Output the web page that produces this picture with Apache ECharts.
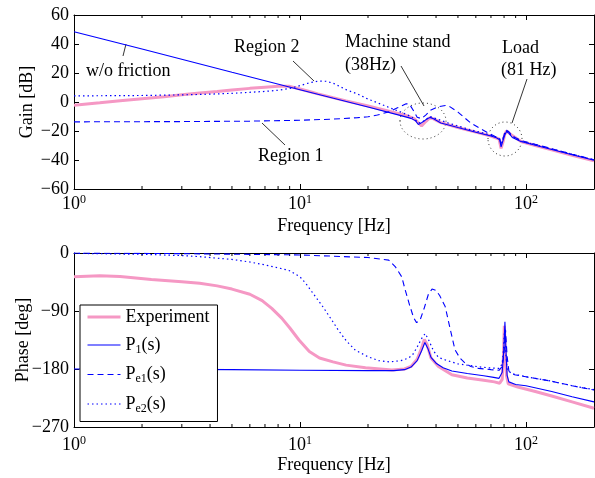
<!DOCTYPE html>
<html>
<head>
<meta charset="utf-8">
<script src="https://cdn.jsdelivr.net/npm/echarts@6/dist/echarts.min.js"></script>
<style>
html, body { margin: 0; padding: 0; background: #fff; }
#bode { width: 595px; height: 478px; }
</style>
</head>
<body>
<div id="bode"></div>
<script>
// gain [dB]
var freqGainExp = [1, 1.3, 1.6, 2, 2.5, 3, 3.6, 4.3, 5, 6, 7, 8, 9, 10, 11, 12, 14, 16, 20, 25, 30, 32, 33.5, 34.5, 36, 37.6, 39, 42, 50, 60, 70, 76, 77.6, 79, 80.5, 82, 83.5, 86, 95, 110, 130, 160, 200];
var gainExp = [-2.2, -0.5, 0.9, 2.3, 3.7, 5.0, 6.2, 7.3, 8.3, 9.4, 10.2, 10.8, 10.8, 9.0, 7.2, 5.6, 3.0, 0.8, -2.8, -6.6, -9.7, -11.5, -14.5, -16.5, -13.5, -10.8, -11.6, -14.2, -17.6, -20.8, -23.5, -25.5, -32, -28, -22.5, -20, -20.5, -22.5, -27.2, -30, -33, -36.8, -40.6];

var freqGainP1 = [1, 2, 5, 10, 20, 28, 31, 32.5, 33.4, 34.5, 36, 37.6, 39, 42, 50, 60, 70, 74, 76.5, 77.6, 79, 80.5, 82, 82.8, 84, 87, 95, 110, 130, 160, 200];
var gainP1 = [48.5, 36.5, 20.5, 8.5, -3.5, -9.4, -11.3, -13, -15.5, -14.3, -12.3, -10.6, -11.6, -14.5, -17.6, -20.8, -23.5, -24.6, -26, -30.9, -27, -23, -20.3, -20.1, -21.5, -24.5, -27.2, -29.8, -32.7, -36.4, -40.2];

var freqGainPe1 = [1, 3, 6, 10, 14, 18, 20, 22, 24.7, 27, 29.5, 30.5, 31.8, 33, 34.5, 36, 38, 41, 44, 46, 50, 57, 63, 69, 73, 76.5, 77.6, 79, 80.5, 82, 84, 87, 95, 110, 130, 160, 200];
var gainPe1 = [-13.7, -13.5, -13.2, -12.6, -11.8, -10.8, -10.2, -9, -6.8, -4, -1.2, -1.5, -6, -10.5, -11.5, -9, -5.5, -3.2, -2.4, -3.2, -7, -14.5, -18.5, -21.8, -23.8, -25.5, -29, -25.5, -21.5, -19.5, -20.5, -23.5, -26.5, -29.2, -32.2, -36, -39.8];

var freqGainPe2 = [1, 2, 3, 4, 5, 6, 7, 8, 9, 10, 11, 12, 13, 14, 16, 18, 20, 22, 25, 28, 30, 32, 33.5, 35, 37.6, 40, 45, 55, 65, 72, 76.5, 77.6, 79, 81, 83, 86, 95, 120, 160, 200];
var gainPe2 = [4.2, 4.5, 4.9, 5.4, 6.0, 6.7, 7.3, 8.1, 9.3, 11.3, 13.2, 14.4, 14.3, 13, 8.5, 5.5, 2, -0.5, -4, -7, -9, -11.5, -14.5, -13.5, -10, -11.5, -14.3, -18.5, -21.5, -23.5, -25.5, -29.5, -26, -20, -20.5, -23, -27, -31, -36, -40];

// phase [deg]
var freqPhaseExp = [1, 1.3, 1.6, 2.2, 3, 3.6, 4.3, 5, 6, 6.8, 7.5, 8.3, 9, 9.9, 11, 12.2, 14, 16, 19.5, 25.5, 29, 31, 33, 34.5, 35.5, 36.5, 38, 41, 47, 55, 65, 72.5, 76.5, 78.5, 79.5, 80.2, 81, 82, 83.5, 92, 110, 130, 160, 200];
var phaseExp = [-36.8, -35.2, -36.5, -41, -44.5, -47, -51, -56, -64, -74, -86, -101, -116, -135, -153, -163, -169, -174, -178, -181.5, -180, -176, -165, -148, -134, -142, -163, -176, -189, -194, -197.5, -200, -202, -196, -160, -113, -150, -190, -203, -208, -215, -222, -231, -241];

var freqPhaseP1 = [1, 5, 10, 20, 26, 29, 31, 33, 34.5, 35.7, 36.8, 38, 40, 43, 47, 55, 65, 72, 76, 78.5, 79.8, 80.7, 81.5, 82.5, 84, 90, 100, 130, 160, 200];
var phaseP1 = [-180, -181, -182, -182.5, -182.5, -181, -177, -167, -152, -139, -148, -162, -171, -178, -183, -187, -190.5, -193, -194.5, -185, -150, -106.6, -150, -190, -200, -204, -206, -215, -223, -231];

var freqPhasePe1 = [1, 3, 10, 20, 24.7, 26.5, 28.2, 29.2, 30.5, 31.8, 32.8, 34, 35.5, 37, 38.4, 40, 41.5, 43.9, 46, 48.5, 51, 53.8, 57, 61.6, 70, 76, 78.5, 80, 81.2, 82.5, 84, 89, 100, 130, 160, 200];
var phasePe1 = [0, -1, -3, -7, -11, -22, -37, -57, -80, -100, -108, -104, -85, -64, -56, -58, -66, -83, -115, -150, -163, -171, -176, -179, -181, -182, -176, -155, -119, -160, -183, -189, -192, -199, -206, -212.6];

var freqPhasePe2 = [1, 2, 3, 3.6, 5, 6, 7, 8, 8.93, 10, 10.6, 11.5, 12.6, 13.7, 14.8, 16, 17.6, 20, 22.3, 25, 28, 30.2, 31.5, 33, 34.5, 35.8, 37, 39, 41, 44, 50, 61.6, 70, 76, 78.5, 79.5, 80.2, 81.2, 82.5, 86, 100, 130, 160, 200];
var phasePe2 = [-0.5, -2, -4, -5.7, -10, -14, -18.5, -23, -27, -37, -47, -64, -83, -102, -120, -136, -151, -161, -167, -169, -167, -163, -158, -146, -133, -125, -134, -152, -162, -166, -172, -176.5, -178.5, -179, -172, -150, -125, -150, -180, -187, -192, -199, -206, -212];

var minorFreqs = [2, 3, 4, 5, 6, 7, 8, 9, 20, 30, 40, 50, 60, 70, 80, 90];
var seriesNames = ['Experiment', 'P1(s)', 'Pe1(s)', 'Pe2(s)'];
var legendText = {
    'Experiment': '{n|Experiment}',
    'P1(s)': '{n|P}{sub|1}{n|(s)}',
    'Pe1(s)': '{n|P}{sub|e1}{n|(s)}',
    'Pe2(s)': '{n|P}{sub|e2}{n|(s)}'
};

var serif = "'Liberation Serif', 'Times New Roman', serif";
var pink = '#f598c4';
var blue = '#0000ff';

function pairs(xs, ys) {
    var out = [];
    for (var i = 0; i < xs.length; i++) {
        out.push([xs[i], ys[i]]);
    }
    return out;
}

function logLabel(v) {
    var e = Math.round(Math.log(v) / Math.LN10);
    if (Math.abs(v - Math.pow(10, e)) > 1e-6 * v) return '';
    return '{b|10}{s|' + e + '}';
}

function numLabel(v) {
    return v < 0 ? '\u2212' + (-v) : '' + v;
}

function xAxes(g, margin, gap) {
    return [{
        type: 'log', logBase: 10, gridIndex: g, min: 1, max: 200, position: 'bottom',
        axisLine: { onZero: false, lineStyle: { color: '#000', width: 1 } },
        axisTick: { inside: true, length: 5, lineStyle: { color: '#000' } },
        axisLabel: {
            formatter: logLabel, margin: margin, showMaxLabel: false,
            rich: {
                b: { fontSize: 18, fontFamily: serif, color: '#000' },
                s: { fontSize: 12, fontFamily: serif, color: '#000', padding: [0, 0, 9, 0] }
            }
        },
        splitLine: { show: false },
        name: 'Frequency [Hz]', nameLocation: 'middle', nameGap: gap, nameMoveOverlap: false,
        nameTextStyle: { fontSize: 18, fontFamily: serif, fontWeight: 'normal', color: '#000' }
    }, {
        type: 'log', logBase: 10, gridIndex: g, min: 1, max: 200, position: 'top',
        axisLine: { onZero: false, lineStyle: { color: '#000', width: 1 } },
        axisTick: { inside: true, length: 5, lineStyle: { color: '#000' } },
        axisLabel: { show: false },
        splitLine: { show: false }
    }];
}

function yAxes(g, min, max, step, name, gap) {
    return [{
        type: 'value', gridIndex: g, min: min, max: max, interval: step, position: 'left',
        axisLine: { onZero: false, lineStyle: { color: '#000', width: 1 } },
        axisTick: { inside: true, length: 5, lineStyle: { color: '#000' } },
        axisLabel: { formatter: numLabel, margin: 5, fontSize: 18, fontFamily: serif, color: '#000' },
        splitLine: { show: false },
        name: name, nameLocation: 'middle', nameGap: gap, nameMoveOverlap: false,
        nameTextStyle: { fontSize: 18, fontFamily: serif, fontWeight: 'normal', color: '#000' }
    }, {
        type: 'value', gridIndex: g, min: min, max: max, interval: step, position: 'right',
        axisLine: { onZero: false, lineStyle: { color: '#000', width: 1 } },
        axisTick: { inside: true, length: 5, lineStyle: { color: '#000' } },
        axisLabel: { show: false },
        splitLine: { show: false }
    }];
}

function minorTicks(g) {
    return {
        type: 'custom', xAxisIndex: g * 2, yAxisIndex: g * 2, silent: true,
        data: minorFreqs.map(function (f) { return [f, 0]; }),
        renderItem: function (params, api) {
            var x = api.coord([api.value(0), 0])[0];
            var cs = params.coordSys;
            var bottom = cs.y + cs.height;
            return {
                type: 'group',
                children: [
                    { type: 'line', shape: { x1: x, y1: bottom, x2: x, y2: bottom - 3 }, style: { stroke: '#000', lineWidth: 1 } },
                    { type: 'line', shape: { x1: x, y1: cs.y, x2: x, y2: cs.y + 3 }, style: { stroke: '#000', lineWidth: 1 } }
                ]
            };
        }
    };
}

function curves(g, sets) {
    var styles = [
        { color: pink, width: 3, type: 'solid' },
        { color: blue, width: 1.1, type: 'solid' },
        { color: blue, width: 1.1, type: [6, 4] },
        { color: blue, width: 1.2, type: [1.5, 3] }
    ];
    return sets.map(function (d, i) {
        return {
            name: seriesNames[i], type: 'line', xAxisIndex: g * 2, yAxisIndex: g * 2,
            data: d, symbol: 'none', smooth: false,
            lineStyle: { color: styles[i].color, width: styles[i].width, type: styles[i].type },
            itemStyle: { color: styles[i].color }
        };
    });
}

function label(text, x, y) {
    return {
        type: 'text', silent: true,
        style: { text: text, x: x, y: y, font: '18px ' + serif, fill: '#000',
                 align: 'left', verticalAlign: 'middle', textAlign: 'left', textVerticalAlign: 'middle' }
    };
}

function leader(x1, y1, x2, y2) {
    return { type: 'line', silent: true, shape: { x1: x1, y1: y1, x2: x2, y2: y2 }, style: { stroke: '#000', lineWidth: 0.8 } };
}

function ring(cx, cy, rx, ry) {
    return { type: 'ellipse', silent: true, shape: { cx: cx, cy: cy, rx: rx, ry: ry },
             style: { fill: null, stroke: '#333', lineWidth: 1, lineDash: [1, 3] } };
}

var chart = echarts.init(document.getElementById('bode'));
var option = {
    animation: false,
    backgroundColor: '#fff',
    grid: [
        { left: 74, right: 1, top: 15, height: 174 },
        { left: 74, right: 1, top: 253, height: 174 }
    ],
    xAxis: xAxes(0, 5, 28).concat(xAxes(1, 8, 29)),
    yAxis: yAxes(0, -60, 60, 20, 'Gain [dB]', 38).concat(yAxes(1, -270, 0, 90, 'Phase [deg]', 42)),
    legend: {
        data: seriesNames, orient: 'vertical', left: 80, top: 305,
        itemWidth: 33, itemHeight: 14, itemGap: 8.5, padding: [3, 8, 7, 6],
        borderColor: '#000', borderWidth: 1, borderRadius: 0, backgroundColor: '#fff',
        itemStyle: { opacity: 0, color: 'rgba(0,0,0,0)', borderWidth: 0 },
        lineStyle: { width: 'inherit' },
        formatter: function (name) { return legendText[name]; },
        textStyle: {
            color: '#000', fontWeight: 'normal',
            rich: {
                n: { fontSize: 18, fontFamily: serif, fontWeight: 'normal', color: '#000', lineHeight: 22 },
                sub: { fontSize: 12, fontFamily: serif, fontWeight: 'normal', color: '#000', lineHeight: 22, padding: [9, 0, 0, 0] }
            }
        }
    },
    graphic: { elements: [
        label('w/o friction', 86, 71), leader(126, 44, 123, 56),
        label('Region 2', 234, 47), leader(293, 61, 314, 81),
        label('Region 1', 258, 156), leader(262, 123, 285, 145),
        label('Machine stand', 345, 42), label('(38Hz)', 345, 65), leader(401, 66, 424, 106),
        label('Load', 502, 48), label('(81 Hz)', 501, 70), leader(527, 79, 512, 123),
        ring(423, 121, 23, 18), ring(505, 139, 17, 17)
    ] },
    series: curves(0, [
        pairs(freqGainExp, gainExp), pairs(freqGainP1, gainP1),
        pairs(freqGainPe1, gainPe1), pairs(freqGainPe2, gainPe2)
    ]).concat(curves(1, [
        pairs(freqPhaseExp, phaseExp), pairs(freqPhaseP1, phaseP1),
        pairs(freqPhasePe1, phasePe1), pairs(freqPhasePe2, phasePe2)
    ])).concat([minorTicks(0), minorTicks(1)])
};
chart.setOption(option);
</script>
</body>
</html>
